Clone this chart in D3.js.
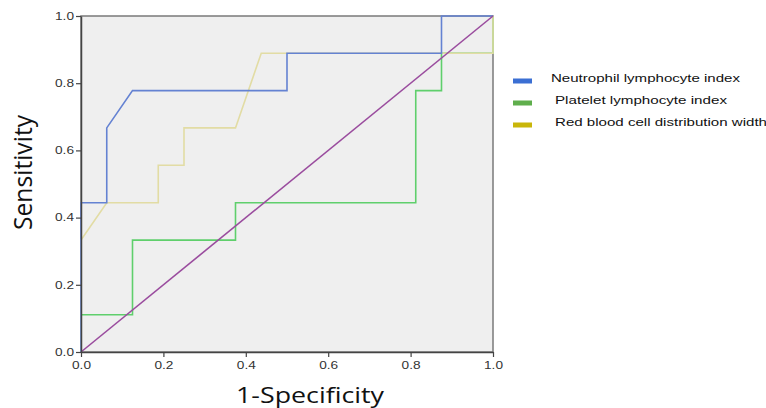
<!DOCTYPE html>
<html>
<head>
<meta charset="utf-8">
<script src="https://cdn.jsdelivr.net/npm/d3@7"></script>
<style>
  body { margin: 0; background: #fff; }
  svg { display: block; }
</style>
</head>
<body>
<div id="chart"></div>
<script>
// ROC curves: 16 negatives (x steps of 1/16), 9 positives (y steps of 1/9)
const nliX = [0, 0, 0.0625, 0.0625, 0.125, 0.5, 0.5, 0.875, 0.875, 1];
const nliY = [0, 0.444, 0.444, 0.667, 0.778, 0.778, 0.889, 0.889, 1, 1];
const pliX = [0, 0, 0.125, 0.125, 0.375, 0.375, 0.8125, 0.8125, 0.875, 0.875, 1, 1];
const pliY = [0, 0.111, 0.111, 0.333, 0.333, 0.444, 0.444, 0.778, 0.778, 0.889, 0.889, 1];
const rdwX = [0, 0, 0.0625, 0.1875, 0.1875, 0.25, 0.25, 0.375, 0.4375, 1, 1];
const rdwY = [0, 0.333, 0.444, 0.444, 0.556, 0.556, 0.667, 0.667, 0.889, 0.889, 1];
const refX = [0, 1];
const refY = [0, 1];
const ticks = [0, 0.2, 0.4, 0.6, 0.8, 1.0];
const legendNames = ['Neutrophil lymphocyte index', 'Platelet lymphocyte index', 'Red blood cell distribution width'];

const width = 766, height = 408;
const svg = d3.select('#chart').append('svg').attr('width', width).attr('height', height);

const x = d3.scaleLinear().domain([0, 1]).range([81, 493]);
const y = d3.scaleLinear().domain([0, 1]).range([352, 16]);

// plot background
svg.append('rect').attr('x', x(0)).attr('y', y(1)).attr('width', x(1) - x(0)).attr('height', y(0) - y(1))
  .attr('fill', '#efefef').attr('stroke', '#7a7a7a').attr('stroke-width', 1.5);

const line = d3.line().x(d => x(d[0])).y(d => y(d[1]));
const series = [
  { xs: pliX, ys: pliY, color: '#5fcf6c' },
  { xs: rdwX, ys: rdwY, color: '#e2dca4' },
  { xs: nliX, ys: nliY, color: '#6482d2' },
  { xs: refX, ys: refY, color: '#9a4c9e' }
];
series.forEach(s => {
  svg.append('path').datum(d3.zip(s.xs, s.ys)).attr('d', line)
    .attr('fill', 'none').attr('stroke', s.color).attr('stroke-width', 1.6);
});

// axes
const fmt = d3.format('.1f');
const xAxis = svg.append('g').attr('transform', `translate(0,${y(0)})`)
  .call(d3.axisBottom(x).tickValues(ticks).tickFormat(fmt).tickSize(5).tickSizeOuter(0));
const yAxis = svg.append('g').attr('transform', `translate(${x(0)},0)`)
  .call(d3.axisLeft(y).tickValues(ticks).tickFormat(fmt).tickSize(5).tickSizeOuter(0));
[xAxis, yAxis].forEach(a => {
  a.select('.domain').attr('stroke', '#444').attr('stroke-width', 1.5);
  a.selectAll('.tick line').attr('stroke', '#444').attr('stroke-width', 1.2);
  a.selectAll('.tick text').attr('fill', '#333').style('font-family', 'Liberation Sans, Arial, sans-serif').style('font-size', '10.5px')
    .attr('textLength', 19).attr('lengthAdjust', 'spacingAndGlyphs');
});
xAxis.selectAll('.tick text').attr('dy', '0.9em');
yAxis.selectAll('.tick text').attr('x', -7);

// axis titles (source image is stretched horizontally)
svg.append('text').attr('x', 236).attr('y', 403)
  .style('font-family', 'Open Sans, sans-serif').style('font-size', '21px').attr('fill', '#111')
  .attr('textLength', 148).attr('lengthAdjust', 'spacingAndGlyphs')
  .text('1-Specificity');
svg.append('text').attr('transform', 'translate(32,230) scale(1.25,1) rotate(-90)')
  .style('font-family', 'Open Sans, sans-serif').style('font-size', '21px').attr('fill', '#111')
  .attr('textLength', 115).attr('lengthAdjust', 'spacingAndGlyphs')
  .text('Sensitivity');

// legend
const legendColors = ['#3b6fd3', '#5fae4c', '#c9b60a'];
const legendY = [81, 103, 125];
const legendTextX = [551, 555, 555];
const legendTextLen = [189, 172, 212];
legendNames.forEach((name, i) => {
  svg.append('rect').attr('x', 513).attr('y', legendY[i] - 2.5).attr('width', 19).attr('height', 5).attr('fill', legendColors[i]);
  svg.append('text').attr('x', legendTextX[i]).attr('y', legendY[i] - 3).attr('dy', '0.35em')
    .style('font-family', 'Liberation Sans, Arial, sans-serif').style('font-size', '11.5px').attr('fill', '#111')
    .attr('textLength', legendTextLen[i]).attr('lengthAdjust', 'spacingAndGlyphs')
    .text(name);
});
</script>
</body>
</html>
